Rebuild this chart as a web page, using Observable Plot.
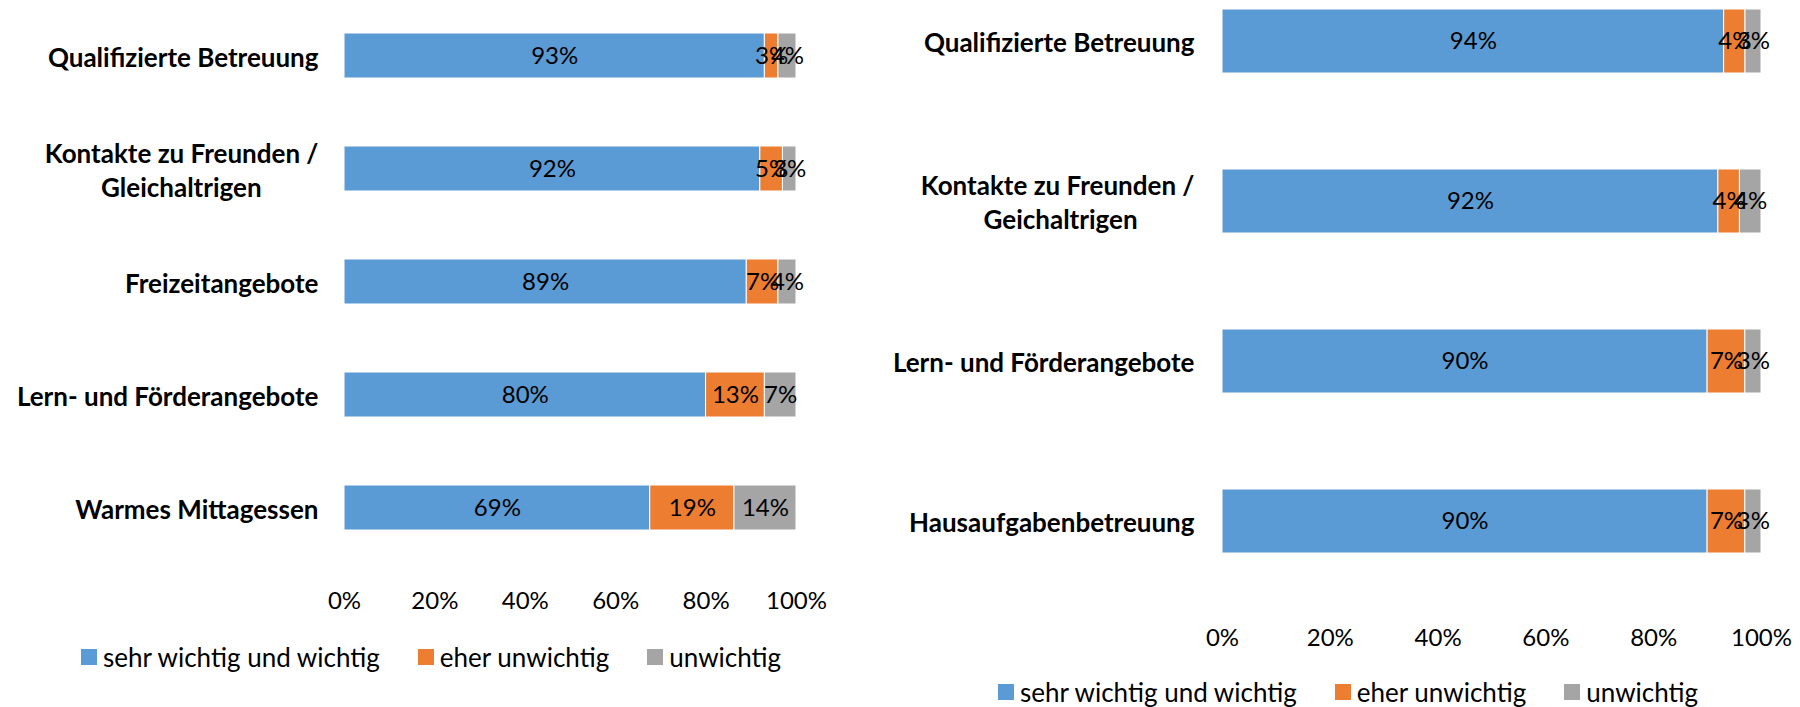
<!DOCTYPE html>
<html>
<head>
<meta charset="utf-8">
<script src="https://cdn.jsdelivr.net/npm/d3@7"></script>
<script src="https://cdn.jsdelivr.net/npm/@observablehq/plot@0.6"></script>
<style>
  body { margin: 0; background: #fff; }
  #wrap { position: relative; width: 1800px; height: 707px; overflow: hidden; background: #fff; }
  .panel { position: absolute; top: 0; }
  .panel svg { display: block; overflow: visible; }
  .panel span[class$="-swatch"] { margin-right: 38px !important; }
  .panel span[class$="-swatch"] > svg { margin-right: 6px !important; }
</style>
</head>
<body>
<div id="wrap">
  <div class="panel" id="left" style="left:0px"></div>
  <div class="panel" id="right" style="left:860px"></div>
</div>
<script>
// ---- data ----
const series = ["sehr wichtig und wichtig", "eher unwichtig", "unwichtig"];
const colors = ["#5B9BD5", "#ED7D31", "#A5A5A5"];
const xTicks = [0, 0.2, 0.4, 0.6, 0.8, 1];

const leftCategories = ["Qualifizierte Betreuung", "Kontakte zu Freunden /\nGleichaltrigen", "Freizeitangebote", "Lern- und Förderangebote", "Warmes Mittagessen"];
const leftWichtig = [93, 92, 89, 80, 69];
const leftEherUnwichtig = [3, 5, 7, 13, 19];
const leftUnwichtig = [4, 3, 4, 7, 14];

const rightCategories = ["Qualifizierte Betreuung", "Kontakte zu Freunden /\nGeichaltrigen", "Lern- und Förderangebote", "Hausaufgabenbetreuung"];
const rightWichtig = [94, 92, 90, 90];
const rightEherUnwichtig = [4, 4, 7, 7];
const rightUnwichtig = [3, 4, 3, 3];

// ---- styling ----
const FONT = "Lato, 'Open Sans', sans-serif";
const LABEL_SIZE = 26;
const VALUE_SIZE = 24;
const LEGEND_SIZE = 26;

function buildRows(categories, cols) {
  const rows = [];
  categories.forEach((cat, i) => {
    series.forEach((s, j) => rows.push({cat, series: s, value: cols[j][i]}));
  });
  return rows;
}

const ctx = document.createElement("canvas").getContext("2d");
function centerLines(label) {
  const lines = String(label).split("\n");
  if (lines.length < 2) return label;
  ctx.font = `bold ${LABEL_SIZE}px ${FONT}`;
  const ws = lines.map(l => ctx.measureText(l).width);
  const max = Math.max(...ws);
  const nb = ctx.measureText("\u00A0").width || 5;
  return lines.map((l, i) => l + "\u00A0".repeat(Math.max(0, Math.round((max - ws[i]) / 2 / nb)))).join("\n");
}

function chart(o) {
  const rows = buildRows(o.categories, o.cols);
  return Plot.plot({
    width: o.width,
    height: o.height,
    marginTop: 0,
    marginLeft: o.marginLeft,
    marginRight: o.marginRight,
    marginBottom: o.marginBottom,
    style: {fontFamily: FONT, background: "white", color: "black"},
    x: {domain: [0, 1]},
    y: {domain: o.categories, paddingInner: 0.6, paddingOuter: o.paddingOuter, align: 0.5},
    color: {domain: series, range: colors},
    marks: [
      Plot.barX(rows, Plot.stackX({offset: "normalize", x: "value", y: "cat", z: "series", fill: "series", stroke: "white", strokeWidth: 1})),
      Plot.textX(rows, Plot.stackX({offset: "normalize", x: "value", y: "cat", z: "series", text: d => d.value + "%", fontSize: VALUE_SIZE, fill: "black"})),
      Plot.axisX({ticks: xTicks, tickFormat: d3.format(".0%"), tickSize: 0, tickPadding: o.tickPaddingX, fontSize: VALUE_SIZE, label: null}),
      Plot.axisY({tickSize: 0, tickPadding: o.tickPaddingY, fontSize: LABEL_SIZE, fontWeight: "bold", lineHeight: 1.29, tickFormat: centerLines, label: null})
    ]
  });
}

function legend(marginLeft) {
  const lg = Plot.legend({
    color: {domain: series, range: colors},
    legend: "swatches",
    swatchSize: 16,
    style: {fontFamily: FONT, fontSize: LEGEND_SIZE + "px", color: "black"}
  });
  lg.style.marginTop = "15px";
  lg.style.marginLeft = marginLeft + "px";
  return lg;
}

const left = document.getElementById("left");
left.append(chart({
  categories: leftCategories,
  cols: [leftWichtig, leftEherUnwichtig, leftUnwichtig],
  width: 860, height: 625,
  marginLeft: 344, marginRight: 64, marginBottom: 62.5,
  paddingOuter: 0.28, tickPaddingX: 29, tickPaddingY: 26
}));
left.append(legend(81));

const right = document.getElementById("right");
right.append(chart({
  categories: rightCategories,
  cols: [rightWichtig, rightEherUnwichtig, rightUnwichtig],
  width: 940, height: 660,
  marginLeft: 362, marginRight: 39, marginBottom: 98,
  paddingOuter: 0.056, tickPaddingX: 66, tickPaddingY: 28
}));
right.append(legend(138));
</script>
</body>
</html>
